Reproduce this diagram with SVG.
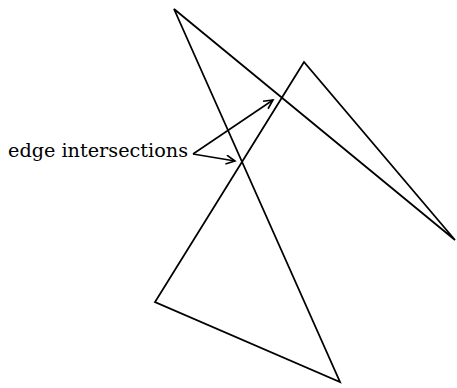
<svg xmlns="http://www.w3.org/2000/svg" width="457" height="388" viewBox="0 0 457 388">
<style>
.edge{fill:none;stroke:#000;stroke-width:1.8;stroke-linejoin:miter}
.arr{fill:none;stroke:#000;stroke-width:1.6}
.lbl{font-family:"DejaVu Serif",serif;font-size:18px;fill:#000}
</style>
<defs>
<marker id="ah" markerWidth="12" markerHeight="12" refX="10" refY="5" orient="auto" markerUnits="userSpaceOnUse">
<path d="M1,0.5 L10,5 L1,9.5" fill="none" stroke="#000" stroke-width="1.6"/>
</marker>
</defs>
<rect width="457" height="388" fill="#fff"/>
<g id="polygon">
<path class="edge" d="M174,9 L455,240 L304,62 L155,302 L340,382 Z"/>
</g>
<g id="label">
<text class="lbl" x="8" y="157" textLength="180" lengthAdjust="spacingAndGlyphs">edge intersections</text>
</g>
<g id="connectors">
<path class="arr" d="M193,154 L273,100" marker-end="url(#ah)"/>
<path class="arr" d="M193,154 L235,161" marker-end="url(#ah)"/>
</g>
</svg>
